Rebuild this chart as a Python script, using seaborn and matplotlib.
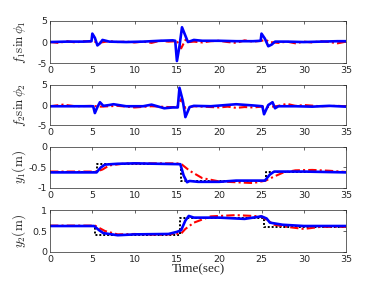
import matplotlib
matplotlib.use("Agg")
import matplotlib.pyplot as plt
import seaborn as sns

# f1 sin(phi1)
t_f1_blue = [0, 2, 4, 4.9, 5.0, 5.3, 5.6, 5.9, 6.2, 7, 9, 11, 13, 14.5, 14.8, 15.0, 15.3, 15.6, 15.9, 16.3, 17, 18, 20, 22, 24, 24.9, 25.0, 25.4, 25.8, 26.2, 26.6, 28, 30, 32, 34, 35]
f1_blue = [0, 0.1, 0.1, 0.2, 2.0, 1.0, -0.8, -0.3, 0.5, 0.1, 0.0, 0.1, 0.3, 0.4, 0.3, -4.5, -1.0, 3.5, 2.0, 0.0, 0.5, 0.3, 0.3, 0.2, 0.2, 0.3, 2.0, 0.8, -1.0, -0.6, 0.1, 0.1, 0.0, 0.1, 0.2, 0.2]
t_f1_red = [0, 1, 2, 3, 4, 5, 6, 7, 8, 9, 10, 11, 12, 13, 14, 15, 15.5, 16, 16.5, 17, 18, 19, 20, 21, 22, 23, 24, 25, 25.5, 26, 27, 28, 29, 30, 31, 32, 33, 34, 35]
f1_red = [0, -0.2, 0.2, -0.1, 0.2, 0.1, -0.1, 0.2, 0.0, 0.1, -0.1, 0.1, -0.2, 0.3, 0.1, 0.2, -1.5, 0.5, 0.0, 0.1, -0.1, 0.2, 0.3, 0.0, -0.2, 0.4, 0.1, 0.3, 0.5, 0.0, -0.2, 0.1, -0.3, 0.1, -0.1, 0.2, 0.0, -0.3, 0.1]

# f2 sin(phi2)
t_f2_blue = [0, 2, 4, 5.1, 5.3, 5.6, 5.9, 6.3, 7, 7.5, 9, 11, 12, 13.5, 14.5, 15.1, 15.3, 15.7, 16.0, 16.5, 17, 19, 22, 24, 25.1, 25.3, 25.8, 26.3, 26.6, 27, 29, 31, 33, 35]
f2_blue = [-0.3, -0.3, -0.3, -0.3, -2.0, -0.5, 0.7, -0.2, 0.0, 0.2, -0.3, -0.3, 0.1, -0.8, -0.6, -0.6, 4.3, 1.0, -3.0, -0.5, -0.2, -0.3, 0.2, -0.1, -0.3, -2.3, 0.0, 0.7, -0.8, -0.3, -0.3, -0.4, -0.2, -0.4]
t_f2_red = [0, 1.5, 3, 5, 6, 8, 10, 12, 13, 14, 15, 15.5, 16, 17, 18, 20, 21, 22, 23, 24, 25, 26, 27, 28, 29, 30, 32, 34, 35]
f2_red = [-0.3, 0.1, -0.3, -0.2, -0.4, -0.2, -0.6, -0.3, -0.4, -0.5, -0.5, 1.5, -0.7, -0.3, -0.4, -0.6, -0.4, -0.7, -0.5, -0.6, -0.4, -0.5, -0.2, 0.3, -0.2, 0.0, -0.3, -0.2, -0.3]

# y1
t_y1_ref = [0, 5.5, 5.5, 15.5, 15.5, 25.5, 25.5, 35]
y1_ref = [-0.6, -0.6, -0.42, -0.42, -0.83, -0.83, -0.6, -0.6]
t_y1_blue = [0, 5.5, 6.0, 6.5, 8, 10, 15.4, 15.8, 16.2, 16.5, 17.5, 20, 22, 25.4, 26.0, 26.5, 30, 35]
y1_blue = [-0.62, -0.62, -0.5, -0.43, -0.41, -0.4, -0.42, -0.7, -0.86, -0.83, -0.85, -0.85, -0.82, -0.82, -0.67, -0.6, -0.6, -0.62]
t_y1_red = [0, 5.5, 6.2, 7, 9, 12, 15, 15.6, 16.5, 18, 20, 22, 24, 25.5, 26.5, 27.5, 29, 31, 33, 35]
y1_red = [-0.6, -0.6, -0.55, -0.45, -0.4, -0.4, -0.4, -0.43, -0.58, -0.76, -0.84, -0.86, -0.88, -0.82, -0.72, -0.63, -0.57, -0.56, -0.58, -0.61]

# y2
t_y2_ref = [0, 5.3, 5.3, 15.4, 15.4, 25.3, 25.3, 35]
y2_ref = [0.62, 0.62, 0.4, 0.4, 0.82, 0.82, 0.6, 0.6]
t_y2_blue = [0, 5.2, 5.8, 6.3, 8, 10, 14, 15, 15.5, 16.0, 16.4, 17, 20, 23, 25, 25.6, 26, 27.5, 30, 35]
y2_blue = [0.62, 0.62, 0.52, 0.45, 0.4, 0.42, 0.43, 0.48, 0.52, 0.75, 0.86, 0.82, 0.82, 0.79, 0.85, 0.8, 0.7, 0.65, 0.62, 0.62]
t_y2_red = [0, 5.3, 6.5, 8, 10, 13, 15.5, 16, 17, 19, 22, 24, 25, 26.5, 28, 30, 32, 35]
y2_red = [0.63, 0.63, 0.5, 0.42, 0.43, 0.41, 0.44, 0.55, 0.7, 0.85, 0.88, 0.86, 0.85, 0.65, 0.6, 0.55, 0.6, 0.6]

sns.set_style("white")
plt.rcParams["mathtext.fontset"] = "cm"
plt.rcParams["font.family"] = ["DejaVu Sans"]

fig = plt.figure(figsize=(3.82, 2.87), dpi=100)
left, width = 0.131, 0.775
boxes = [(0.780, 0.147), (0.564, 0.140), (0.345, 0.143), (0.122, 0.146)]
axes = [fig.add_axes([left, b, width, h]) for b, h in boxes]

common = dict(estimator=None, sort=False)
blue = dict(color="#0000ff", linewidth=1.9, **common)
red = dict(color="#ff0000", linewidth=1.5, linestyle=(0, (4, 1.5, 1, 1.5)), **common)
ref = dict(color="black", linewidth=1.4, linestyle=(0, (1, 1)), **common)

sns.lineplot(x=t_f1_red, y=f1_red, ax=axes[0], **red)
sns.lineplot(x=t_f1_blue, y=f1_blue, ax=axes[0], **blue)
sns.lineplot(x=t_f2_red, y=f2_red, ax=axes[1], **red)
sns.lineplot(x=t_f2_blue, y=f2_blue, ax=axes[1], **blue)
sns.lineplot(x=t_y1_ref, y=y1_ref, ax=axes[2], **ref)
sns.lineplot(x=t_y1_red, y=y1_red, ax=axes[2], **red)
sns.lineplot(x=t_y1_blue, y=y1_blue, ax=axes[2], **blue)
sns.lineplot(x=t_y2_ref, y=y2_ref, ax=axes[3], **ref)
sns.lineplot(x=t_y2_red, y=y2_red, ax=axes[3], **red)
sns.lineplot(x=t_y2_blue, y=y2_blue, ax=axes[3], **blue)

ylims = [(-5, 5), (-5, 5), (-1, 0), (0, 1)]
yticks = [[-5, 0, 5], [-5, 0, 5], [-1, -0.5, 0], [0, 0.5, 1]]
ylabels = [r"$f_1\sin\phi_1$", r"$f_2\sin\phi_2$", r"$y_1\mathrm{(m)}$", r"$y_2\mathrm{(m)}$"]

for ax, lim, tk, lab in zip(axes, ylims, yticks, ylabels):
    ax.set_xlim(0, 35)
    ax.set_ylim(*lim)
    ax.set_xticks([0, 5, 10, 15, 20, 25, 30, 35])
    ax.set_yticks(tk)
    ax.set_yticklabels([f"{v:g}" for v in tk])
    ax.tick_params(direction="in", length=2, width=0.5, labelsize=6.8, top=True, right=True,
                   colors="#262626", pad=2)
    for s in ax.spines.values():
        s.set_linewidth(0.5)
        s.set_color("#262626")
    ax.set_ylabel(lab, fontsize=9.5)
    ax.yaxis.set_label_coords(-0.075, 0.5)

axes[3].set_xlabel("Time(sec)", fontsize=9.5, family="Liberation Serif", labelpad=0)

fig.savefig("out.png", dpi=100)
